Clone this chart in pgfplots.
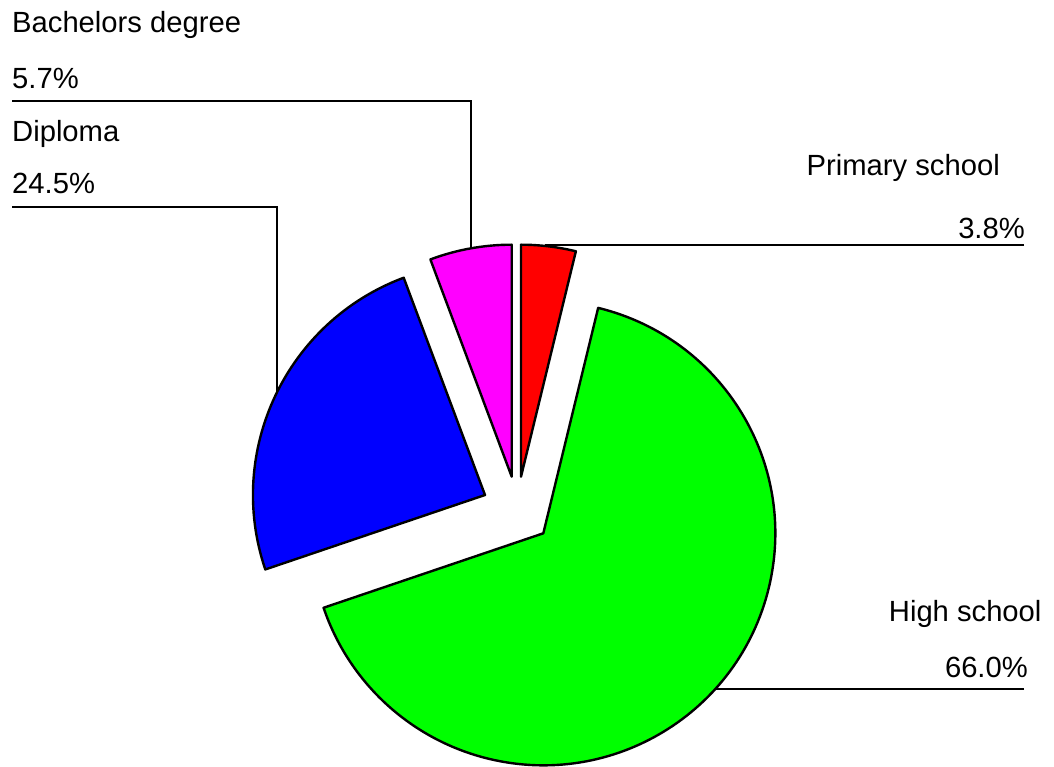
\documentclass[border=0pt]{standalone}
\usepackage{pgfplots}
\pgfplotsset{compat=1.18}
\usepackage{fontspec}
\setmainfont{Liberation Sans}
\definecolor{sred}{HTML}{FF0000}
\definecolor{sgreen}{HTML}{00FF00}
\definecolor{sblue}{HTML}{0000FF}
\definecolor{smag}{HTML}{FF00FF}
% shares in percent, clockwise from 12 o'clock
\def\pPrim{3.8}\def\pHigh{66.0}\def\pDipl{24.5}\def\pBach{5.7}
\def\R{232pt}
\begin{document}
\begin{tikzpicture}[font=\fontsize{29.2}{33}\selectfont]
\begin{axis}[x=1pt,y=1pt,xmin=0,xmax=1054,ymin=0,ymax=766,anchor=origin,at={(0,0)},
 hide axis,clip=false]
 % exploded slices, apex of each one given in axis units
 \filldraw[fill=sred,draw=black,line width=2.4pt,line join=round] (axis cs:521,289.3) -- ++(90:\R)
  arc[start angle=90,end angle={90-3.6*\pPrim},radius=\R] -- cycle;
 \filldraw[fill=sgreen,draw=black,line width=2.4pt,line join=round] (axis cs:543.3,232.7) -- ++({90-3.6*\pPrim}:\R)
  arc[start angle={90-3.6*\pPrim},end angle={90-3.6*(\pPrim+\pHigh)},radius=\R] -- cycle;
 \filldraw[fill=sblue,draw=black,line width=2.4pt,line join=round] (axis cs:485,271) -- ++({90-3.6*(\pPrim+\pHigh)}:\R)
  arc[start angle={90-3.6*(\pPrim+\pHigh)},end angle={90-3.6*(\pPrim+\pHigh+\pDipl)},radius=\R] -- cycle;
 \filldraw[fill=smag,draw=black,line width=2.4pt,line join=round] (axis cs:511.7,289.3) -- ++({90-3.6*(\pPrim+\pHigh+\pDipl)}:\R)
  arc[start angle={90-3.6*(\pPrim+\pHigh+\pDipl)},end angle=-270,radius=\R] -- cycle;
 % labels and leaders
 \node[anchor=base west,inner sep=0] at (axis cs:12,733.7) {Bachelors degree};
 \node[anchor=base west,inner sep=0] at (axis cs:12,677.7) {\pBach\%};
 \draw[line width=2.2pt] (axis cs:12,665) -- (axis cs:471,665) -- (axis cs:471,518);
 \node[anchor=base west,inner sep=0] at (axis cs:12,624.3) {Diploma};
 \node[anchor=base west,inner sep=0] at (axis cs:12,572.7) {\pDipl\%};
 \draw[line width=2.2pt] (axis cs:12,559.3) -- (axis cs:276.7,559.3) -- (axis cs:276.7,373);
 \node[anchor=base east,inner sep=0] at (axis cs:1000,590) {Primary school};
 \node[anchor=base east,inner sep=0] at (axis cs:1025,527.7) {\pPrim\%};
 \draw[line width=2.2pt] (axis cs:1024,521) -- (axis cs:545,521);
 \node[anchor=base east,inner sep=0] at (axis cs:1041.7,145) {High school};
 \node[anchor=base east,inner sep=0] at (axis cs:1028,89) {\pHigh\%};
 \draw[line width=2.2pt] (axis cs:1024,76.7) -- (axis cs:715,76.7);
\end{axis}
\pgfresetboundingbox
\path (0,0) rectangle (1054pt,766pt);
\end{tikzpicture}
\end{document}
